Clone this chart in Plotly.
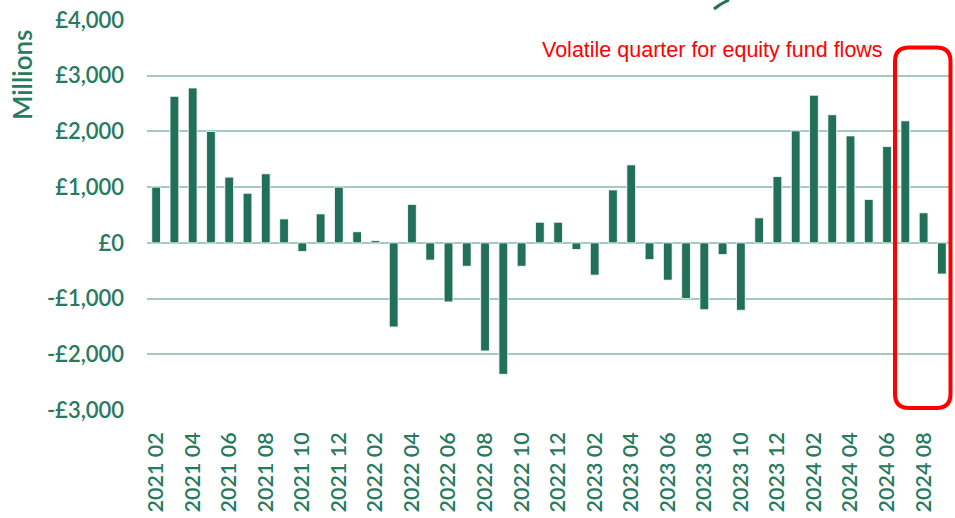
import plotly.graph_objects as go

# ---- data ----
months = [
    "2021 02", "2021 03", "2021 04", "2021 05", "2021 06", "2021 07", "2021 08", "2021 09",
    "2021 10", "2021 11", "2021 12", "2022 01", "2022 02", "2022 03", "2022 04", "2022 05",
    "2022 06", "2022 07", "2022 08", "2022 09", "2022 10", "2022 11", "2022 12", "2023 01",
    "2023 02", "2023 03", "2023 04", "2023 05", "2023 06", "2023 07", "2023 08", "2023 09",
    "2023 10", "2023 11", "2023 12", "2024 01", "2024 02", "2024 03", "2024 04", "2024 05",
    "2024 06", "2024 07", "2024 08", "2024 09",
]
flows = [
    1000, 2630, 2780, 2000, 1180, 890, 1240, 430,
    -155, 520, 1000, 200, 40, -1510, 690, -310,
    -1060, -420, -1940, -2360, -420, 370, 370, -120,
    -580, 950, 1400, -300, -670, -1000, -1200, -210,
    -1210, 450, 1190, 2010, 2650, 2300, 1920, 780,
    1730, 2190, 540, -560,
]
tick_labels = months[::2]
y_ticks = [4000, 3000, 2000, 1000, 0, -1000, -2000, -3000]
y_tick_text = ["£4,000", "£3,000", "£2,000", "£1,000", "£0", "-£1,000", "-£2,000", "-£3,000"]
note = "Volatile quarter for equity fund flows"

BAR = "#22705A"
TEXT = "#267A5E"
GRID = "#A3CBBB"
RED = "#FF0000"

W, H = 955, 518
ML, MR, MT, MB = 147, 4, 20, 108
PW, PH = W - ML - MR, H - MT - MB


def px(x):
    return (x - ML) / PW


def py(y):
    return (H - MB - y) / PH


fig = go.Figure(
    go.Bar(
        x=months,
        y=flows,
        marker=dict(color=BAR, line=dict(color="white", width=0.8)),
        hoverinfo="x+y",
    )
)

# rounded red rectangle (paper coordinates)
x0, x1, y0, y1 = px(895), px(950.5), py(408), py(47.5)
rx, ry = 14 / PW, 14 / PH
path = (
    f"M {x0+rx},{y1} L {x1-rx},{y1} Q {x1},{y1} {x1},{y1-ry} "
    f"L {x1},{y0+ry} Q {x1},{y0} {x1-rx},{y0} "
    f"L {x0+rx},{y0} Q {x0},{y0} {x0},{y0+ry} "
    f"L {x0},{y1-ry} Q {x0},{y1} {x0+rx},{y1} Z"
)
fig.add_shape(type="path", path=path, xref="paper", yref="paper",
              line=dict(color=RED, width=4), fillcolor="rgba(0,0,0,0)")

# fragment of logo at top
logo = f"M {px(714)},{py(9)} Q {px(720)},{py(4)} {px(729)},{py(0)}"
fig.add_shape(type="path", path=logo, xref="paper", yref="paper",
              line=dict(color=BAR, width=3))

fig.add_annotation(
    text=note, xref="paper", yref="paper", x=px(885), y=py(50),
    xanchor="right", yanchor="middle", showarrow=False,
    font=dict(family="Liberation Sans, Arial, sans-serif", size=21.5, color=RED),
)
fig.add_annotation(
    text="Millions", xref="paper", yref="paper", x=px(22), y=py(75),
    xanchor="center", yanchor="middle", showarrow=False, textangle=-90,
    font=dict(family="Lato, sans-serif", size=26, color=TEXT, weight=600),
)

fig.update_layout(
    width=W, height=H,
    margin=dict(l=ML, r=MR, t=MT, b=MB, pad=0, autoexpand=False),
    paper_bgcolor="white", plot_bgcolor="white",
    bargap=0.52, showlegend=False,
    font=dict(family="Lato, sans-serif", color=TEXT),
)
fig.update_xaxes(
    type="category", tickmode="array", tickvals=tick_labels, ticktext=tick_labels,
    tickangle=-90, tickfont=dict(size=21.5, color=TEXT, family="Lato, sans-serif", weight=600),
    showgrid=False, showline=False, zeroline=False, ticks="", ticklabelstandoff=17,
    automargin=False,
)
fig.update_yaxes(
    range=[-3000, 4000], tickmode="array", tickvals=y_ticks, ticktext=y_tick_text,
    tickfont=dict(size=22, color=TEXT, family="Lato, sans-serif", weight=600),
    showgrid=True, gridcolor=GRID, gridwidth=1.5,
    zeroline=True, zerolinecolor=GRID, zerolinewidth=1.5,
    showline=False, ticks="", ticklabelstandoff=22, automargin=False,
)

fig.write_html(
    "out.html",
    config={"displayModeBar": False},
    post_script="document.body.style.margin='0px';document.body.style.overflow='hidden';",
)
